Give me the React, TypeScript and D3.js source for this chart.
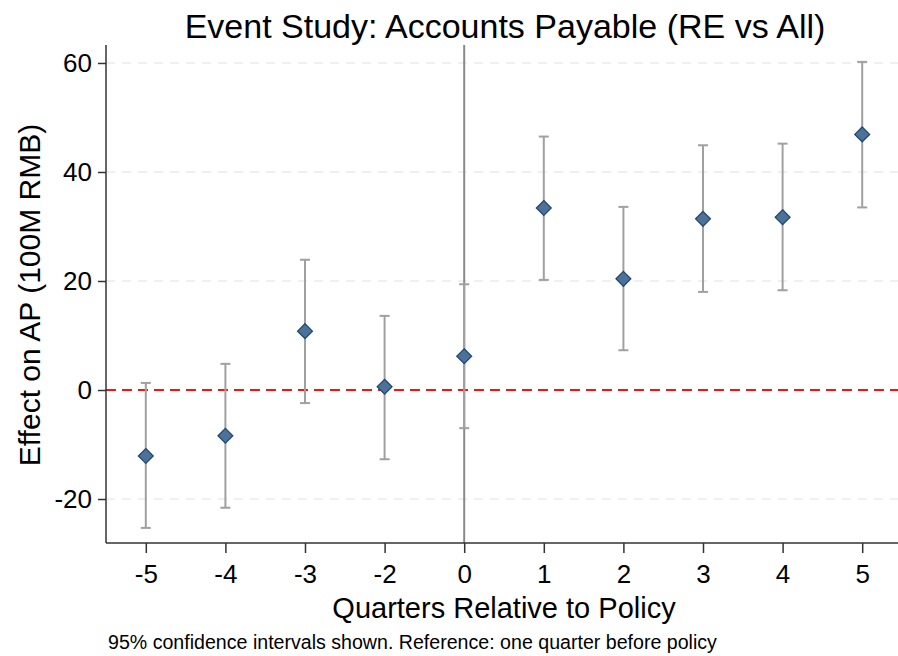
import React, { useEffect, useRef } from 'react';
import * as d3 from 'd3';

const quarters = ['-5', '-4', '-3', '-2', '0', '1', '2', '3', '4', '5'];
const estimates = [-12.1, -8.4, 10.8, 0.6, 6.2, 33.4, 20.4, 31.4, 31.7, 46.9];
const ciLow = [-25.3, -21.6, -2.4, -12.7, -7.0, 20.2, 7.3, 18.0, 18.3, 33.5];
const ciHigh = [1.3, 4.8, 23.9, 13.6, 19.4, 46.5, 33.6, 44.9, 45.2, 60.2];
const yTicks = [-20, 0, 20, 40, 60];

const App = () => {
  const ref = useRef<SVGSVGElement>(null);

  useEffect(() => {
    const svg = d3.select(ref.current).html('');
    const W = 898;
    const left = 106, right = 902, top = 45, bottom = 543;
    const font = 'Liberation Sans, Arial, sans-serif';

    const x = d3.scalePoint().domain(quarters).range([left, right]).padding(0.5);
    const y = d3.scaleLinear().domain([-28.07, 63.3]).range([bottom, top]);

    // grid
    svg.append('g').selectAll('line')
      .data(yTicks.filter(t => t !== 0))
      .enter().append('line')
      .attr('x1', left).attr('x2', W)
      .attr('y1', d => y(d)).attr('y2', d => y(d))
      .attr('stroke', '#ebebeb').attr('stroke-width', 1.5)
      .attr('stroke-dasharray', '9,7');

    // reference lines
    svg.append('line')
      .attr('x1', left).attr('x2', W)
      .attr('y1', y(0)).attr('y2', y(0))
      .attr('stroke', '#ff1010').attr('stroke-width', 2)
      .attr('stroke-dasharray', '10,6');

    svg.append('line')
      .attr('x1', x('0')).attr('x2', x('0'))
      .attr('y1', top).attr('y2', bottom)
      .attr('stroke', '#8a8a8a').attr('stroke-width', 2);

    // error bars
    const bars = svg.append('g').selectAll('g')
      .data(quarters)
      .enter().append('g')
      .attr('stroke', '#a0a0a0').attr('stroke-width', 2);
    bars.append('line')
      .attr('x1', d => x(d)).attr('x2', d => x(d))
      .attr('y1', (_, i) => y(ciLow[i])).attr('y2', (_, i) => y(ciHigh[i]));
    bars.append('line')
      .attr('x1', d => x(d) - 5).attr('x2', d => x(d) + 5)
      .attr('y1', (_, i) => y(ciLow[i])).attr('y2', (_, i) => y(ciLow[i]));
    bars.append('line')
      .attr('x1', d => x(d) - 5).attr('x2', d => x(d) + 5)
      .attr('y1', (_, i) => y(ciHigh[i])).attr('y2', (_, i) => y(ciHigh[i]));

    // points
    const diamond = d3.symbol().type(d3.symbolDiamond2).size(140);
    svg.append('g').selectAll('path')
      .data(quarters)
      .enter().append('path')
      .attr('d', diamond)
      .attr('transform', (d, i) => `translate(${x(d)},${y(estimates[i])})`)
      .attr('fill', '#4d7299')
      .attr('stroke', '#25486f').attr('stroke-width', 1.3);

    // axes
    const ya = svg.append('g')
      .attr('transform', `translate(${left},0)`)
      .call(d3.axisLeft(y).tickValues(yTicks).tickFormat(d => String(d))
        .tickSize(8).tickSizeOuter(0).tickPadding(6));
    ya.select('.domain').attr('stroke', '#333').attr('stroke-width', 1.5)
      .attr('d', `M0,${top}V${bottom}`);
    ya.selectAll('line').attr('stroke', '#333').attr('stroke-width', 1.5);
    ya.selectAll('text').attr('font-size', 26).attr('font-family', font).attr('fill', '#000');

    const xa = svg.append('g')
      .attr('transform', `translate(0,${bottom})`)
      .call(d3.axisBottom(x).tickSize(10).tickSizeOuter(0).tickPadding(12));
    xa.select('.domain').attr('stroke', '#333').attr('stroke-width', 1.5)
      .attr('d', `M${left},0H${W}`);
    xa.selectAll('line').attr('stroke', '#333').attr('stroke-width', 1.5);
    xa.selectAll('text').attr('font-size', 26).attr('font-family', font).attr('fill', '#000');

    // labels
    svg.append('text')
      .attr('x', 505).attr('y', 38)
      .attr('text-anchor', 'middle')
      .attr('font-family', font).attr('font-size', 34)
      .text('Event Study: Accounts Payable (RE vs All)');

    svg.append('text')
      .attr('x', 504).attr('y', 618)
      .attr('text-anchor', 'middle')
      .attr('font-family', font).attr('font-size', 29)
      .text('Quarters Relative to Policy');

    svg.append('text')
      .attr('transform', `translate(40,295) rotate(-90)`)
      .attr('text-anchor', 'middle')
      .attr('font-family', font).attr('font-size', 30)
      .text('Effect on AP (100M RMB)');

    svg.append('text')
      .attr('x', 108).attr('y', 649)
      .attr('font-family', font).attr('font-size', 19.6)
      .text('95% confidence intervals shown. Reference: one quarter before policy');
  }, []);

  return (
    <svg ref={ref} width={898} height={656}
      style={{ position: 'absolute', left: 0, top: 0, background: '#fff' }} />
  );
};

export default App;
